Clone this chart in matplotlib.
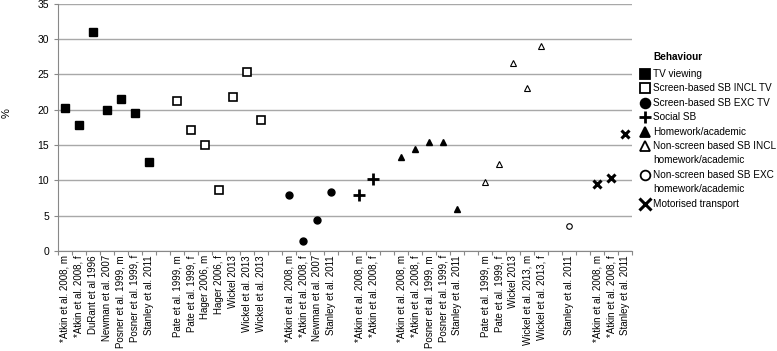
import matplotlib
matplotlib.use('Agg')
import matplotlib.pyplot as plt
from matplotlib.lines import Line2D

plt.rcParams['font.family'] = ['Liberation Sans', 'DejaVu Sans']

# study labels and values per behaviour group
tv_labels = ['*Atkin et al. 2008, m', '*Atkin et al. 2008, f', 'DuRant et al 1996', 'Newman et al. 2007',
             'Posner et al. 1999, m', 'Posner et al. 1999, f', 'Stanley et al. 2011']
tv_values = [20.2, 17.9, 31.0, 19.9, 21.5, 19.5, 12.6]

incl_tv_labels = ['Pate et al. 1999, m', 'Pate et al. 1999, f', 'Hager 2006, m', 'Hager 2006, f',
                  'Wickel 2013', 'Wickel et al. 2013', 'Wickel et al. 2013']
incl_tv_values = [21.2, 17.2, 15.0, 8.6, 21.8, 25.3, 18.6]

exc_tv_labels = ['*Atkin et al. 2008, m', '*Atkin et al. 2008, f', 'Newman et al. 2007', 'Stanley et al. 2011']
exc_tv_values = [7.9, 1.4, 4.4, 8.3]

social_labels = ['*Atkin et al. 2008, m', '*Atkin et al. 2008, f']
social_values = [7.9, 10.2]

homework_labels = ['*Atkin et al. 2008, m', '*Atkin et al. 2008, f', 'Posner et al. 1999, m',
                   'Posner et al. 1999, f', 'Stanley et al. 2011']
homework_values = [13.3, 14.5, 15.5, 15.5, 6.0]

ns_incl_labels = ['Pate et al. 1999, m', 'Pate et al. 1999, f', 'Wickel 2013',
                  'Wickel et al. 2013, m', 'Wickel et al. 2013, f']
ns_incl_values = [9.8, 12.3, 26.6, 23.1, 29.1]

ns_exc_labels = ['Stanley et al. 2011']
ns_exc_values = [3.5]

motor_labels = ['*Atkin et al. 2008, m', '*Atkin et al. 2008, f', 'Stanley et al. 2011']
motor_values = [9.5, 10.4, 16.6]

groups = [
    ('TV viewing', tv_labels, tv_values, dict(marker='s', ms=6, mfc='black', mec='black')),
    ('Screen-based SB INCL TV', incl_tv_labels, incl_tv_values, dict(marker='s', ms=6, mfc='white', mec='black', mew=1.2)),
    ('Screen-based SB EXC TV', exc_tv_labels, exc_tv_values, dict(marker='o', ms=5, mfc='black', mec='black')),
    ('Social SB', social_labels, social_values, dict(marker='+', ms=8, mec='black', mew=2)),
    ('Homework/academic', homework_labels, homework_values, dict(marker='^', ms=5, mfc='black', mec='black')),
    ('Non-screen based SB INCL\nhomework/academic', ns_incl_labels, ns_incl_values, dict(marker='^', ms=4, mfc='white', mec='black', mew=0.8)),
    ('Non-screen based SB EXC\nhomework/academic', ns_exc_labels, ns_exc_values, dict(marker='o', ms=4, mfc='white', mec='black', mew=0.8)),
    ('Motorised transport', motor_labels, motor_values, dict(marker='x', ms=6, mec='black', mew=2.2)),
]

W, H = 777, 351
fig = plt.figure(figsize=(W / 100, H / 100), dpi=100)
ax = fig.add_axes([0.0746, 0.285, 0.739, 0.704])

all_labels = []
pos = 0
for i, (name, labs, vals, style) in enumerate(groups):
    if i > 0:
        all_labels.append('')
        pos += 1
    xs = [pos + k + 0.5 for k in range(len(labs))]
    ax.plot(xs, vals, linestyle='none', color='black', zorder=3, **style)
    all_labels.extend(labs)
    pos += len(labs)

n = len(all_labels)
ax.set_xlim(0, n)
ax.set_ylim(0, 35)
ax.set_yticks(range(0, 36, 5))
ax.set_xticks(range(n + 1))
ax.set_xticklabels([])
ax.set_xticks([k + 0.5 for k in range(n)], minor=True)
ax.set_xticklabels(all_labels, minor=True, rotation=90, fontsize=7)
ax.tick_params(axis='x', which='major', length=3, color='#888888')
ax.tick_params(axis='x', which='minor', length=0, pad=3)
ax.tick_params(axis='y', length=3, color='#888888', labelsize=7.5)

ax.grid(axis='y', color='#a8a8a8', linewidth=1)
ax.set_axisbelow(True)
for s in ['top', 'right']:
    ax.spines[s].set_visible(False)
for s in ['left', 'bottom']:
    ax.spines[s].set_color('#888888')
ax.set_ylabel('%', fontsize=8)
ax.yaxis.set_label_coords(-0.08, 0.56)

# legend drawn by hand so two-line entries keep the marker on the first line
line_h = 14.4
leg_x_marker, leg_x_text = 645, 653
fig.text(leg_x_text / W, 1 - 57 / H, 'Behaviour', fontsize=7.2, fontweight='bold', va='center')
y = 74
for name, labs, vals, style in groups:
    lstyle = dict(style)
    if style['marker'] in ('+', 'x'):
        lstyle['ms'] = 8
    else:
        lstyle['ms'] = 7
        lstyle['mew'] = 1.3
    fig.add_artist(Line2D([leg_x_marker / W], [1 - y / H], transform=fig.transFigure,
                          linestyle='none', color='black', **lstyle))
    for j, part in enumerate(name.split('\n')):
        fig.text(leg_x_text / W, 1 - (y + j * line_h) / H, part, fontsize=7.2, va='center')
    y += line_h * len(name.split('\n'))

fig.savefig('out.png', dpi=100)
